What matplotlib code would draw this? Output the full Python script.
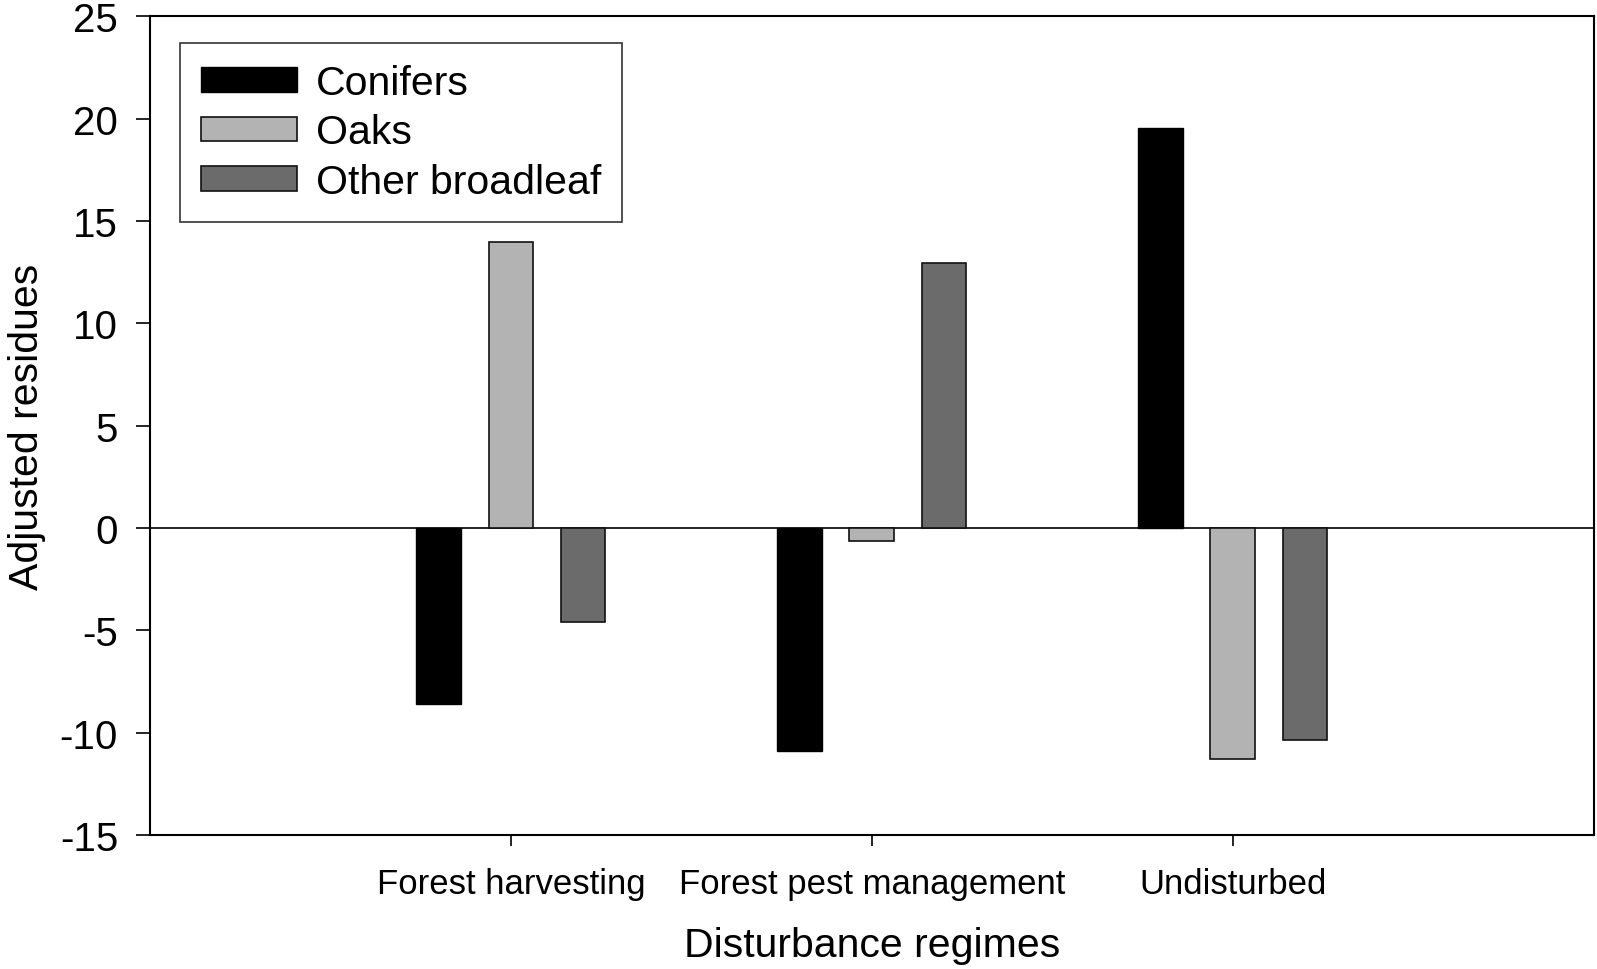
"""
Adjusted residues of tree groups across disturbance regimes.
"""

import numpy as np
import matplotlib.pyplot as plt

plt.rcParams["font.family"] = ["Liberation Sans", "DejaVu Sans"]
plt.rcParams["axes.unicode_minus"] = False

regimes = ["Forest harvesting", "Forest pest management", "Undisturbed"]
conifers = [-8.6, -10.9, 19.55]
oaks = [14.0, -0.65, -11.3]
other_broadleaf = [-4.6, 12.95, -10.35]

x = np.arange(len(regimes))
width = 0.124

fig = plt.figure(figsize=(15.97, 9.70), dpi=100)
ax = fig.add_axes([0.0939, 0.138, 0.904, 0.844])

ax.bar(x - 0.2, conifers, width, color="black", edgecolor="black",
       linewidth=1, label="Conifers")
ax.bar(x, oaks, width, color="#b3b3b3", edgecolor="#111111",
       linewidth=1.2, label="Oaks")
ax.bar(x + 0.2, other_broadleaf, width, color="#6b6b6b", edgecolor="#111111",
       linewidth=1.2, label="Other broadleaf")
ax.axhline(0, color="black", linewidth=1.2, zorder=0)

ax.set_xlim(-1, 3)
ax.set_ylim(-15, 25)
ax.set_yticks(range(-15, 26, 5))
ax.set_xticks(x)
ax.set_xticklabels(regimes, fontsize=25)
ax.tick_params(axis="y", labelsize=29, direction="out", length=10, width=1.2, pad=13)
ax.tick_params(axis="x", direction="out", length=8, width=1.2, pad=15)
for s in ax.spines.values():
    s.set_linewidth(1.5)

ax.set_xlabel("Disturbance regimes", fontsize=29.5, labelpad=19)
ax.set_ylabel("Adjusted residues", fontsize=29.5, labelpad=10)

leg = ax.legend(loc="upper left", bbox_to_anchor=(0.0205, 0.968), fontsize=29.5,
                frameon=True, fancybox=False, edgecolor="black",
                handlelength=2.35, handleheight=0.55, borderpad=0.52,
                labelspacing=0.28, handletextpad=0.45, borderaxespad=0)
leg.get_frame().set_linewidth(1.2)

plt.savefig("out.png", dpi=100)
